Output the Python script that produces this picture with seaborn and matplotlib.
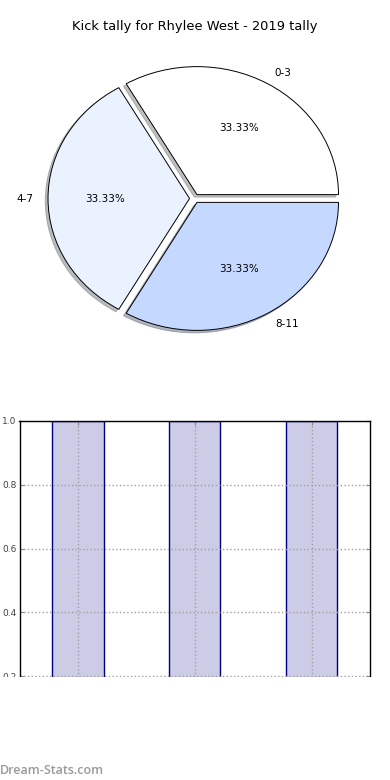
import matplotlib
matplotlib.use("Agg")
import matplotlib.pyplot as plt
import seaborn as sns
import pandas as pd
from matplotlib.patches import Rectangle

# ---- data ----
title = "Kick tally for Rhylee West - 2019 tally"
pie_labels = ["0-3", "4-7", "8-11"]
pie_values = [1, 1, 1]
pie_colors = ["#FFFFFF", "#EAF1FF", "#C5D8FF"]
bar_categories = ["0-3", "4-7", "8-11"]
bar_values = [1.0, 1.0, 1.0]
y_ticks = [0.0, 0.2, 0.4, 0.6, 0.8, 1.0]
watermark = "Dream-Stats.com"

W, H = 390, 780
fig = plt.figure(figsize=(W / 100, H / 100), dpi=100)

def px_axes(left, top, right, bottom):
    return fig.add_axes([left / W, 1 - bottom / H, (right - left) / W, (bottom - top) / H])

# ---- pie ----
axp = px_axes(17.6, 38.5, 371.4, 358.5)
axp.pie(pie_values, labels=pie_labels, colors=pie_colors, explode=[0.035] * 3,
        autopct="%1.2f%%", shadow={"ox": -0.014, "oy": -0.014, "shade": 0.5}, startangle=0,
        wedgeprops=dict(edgecolor="black", linewidth=0.7),
        textprops=dict(fontsize=7.5, color="black"))
axp.set_aspect("auto")
axp.set_xlim(-1.25, 1.25)
axp.set_ylim(-1.25, 1.25)
axp.set_title(title, fontsize=9.4, pad=6)

# ---- bars ----
axb = px_axes(19.5, 421, 370, 740)
df = pd.DataFrame({"cat": bar_categories, "val": bar_values})
sns.barplot(data=df, x="cat", y="val", ax=axb, color="#CCCCE6", saturation=1,
            edgecolor="#000080", linewidth=1.0, width=0.44)
axb.set_xlim(-0.5, 2.5)
axb.set_ylim(0, 1.0)
axb.set_yticks(y_ticks)
axb.set_xlabel("")
axb.set_ylabel("")
axb.set_axisbelow(False)
axb.grid(True, linestyle=":", color="#A0A0A0", linewidth=1.0)
axb.tick_params(direction="in", length=3, color="#888888", labelsize=6.5,
                labelcolor="#444444", top=True, right=True, pad=2)
for s in axb.spines.values():
    s.set_color("black")
    s.set_linewidth(1.0)
    s.set_zorder(5)

# cover lower part (as in reference)
fig.patches.append(Rectangle((0, 0), 1, 1 - 677 / H, transform=fig.transFigure,
                             facecolor="white", edgecolor="none", zorder=10))
fig.text(0.0, 1 - 770 / H, watermark, fontsize=9.0, color="#9A9A9A",
         family=["Open Sans", "DejaVu Sans"], fontweight="semibold",
         ha="left", va="center", zorder=11)

fig.savefig("out.png", dpi=100)
